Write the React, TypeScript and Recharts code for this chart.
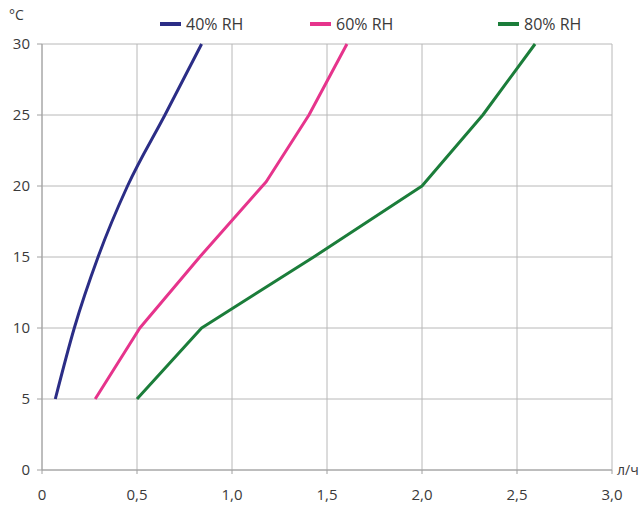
import React from "react";
import {
  LineChart,
  Line,
  XAxis,
  YAxis,
  CartesianGrid,
} from "recharts";

// temperatures (°C) for each curve
const temps40 = [5, 10, 15, 20, 25, 30];
const temps60 = [5, 10, 15, 20.3, 25, 30];
const temps80 = [5, 10, 15, 20, 25, 30];

// flow (л/ч) for each curve
const flow40 = [0.07, 0.17, 0.295, 0.45, 0.647, 0.84];
const flow60 = [0.28, 0.515, 0.83, 1.18, 1.405, 1.605];
const flow80 = [0.5, 0.84, 1.43, 2.0, 2.32, 2.595];

const seriesNames = ["40% RH", "60% RH", "80% RH"];
const seriesColors = ["#2b2d86", "#e6348c", "#1b7d3a"];
const seriesCurve = ["monotone", "linear", "linear"] as const;

const xTicks = [0, 0.5, 1, 1.5, 2, 2.5, 3];
const yTicks = [0, 5, 10, 15, 20, 25, 30];

const toPoints = (xs: number[], ys: number[]) =>
  xs.map((x, i) => ({ x, y: ys[i] }));

const series = [
  toPoints(flow40, temps40),
  toPoints(flow60, temps60),
  toPoints(flow80, temps80),
];

const legendLeft = [160, 310, 498];

const FONT = "'Open Sans', 'DejaVu Sans', sans-serif";
const TEXT = "#3a3a3a";

const fmtX = (v: number) => (v === 0 ? "0" : v.toFixed(1).replace(".", ","));

export default function App() {
  return (
    <div
      style={{
        position: "absolute",
        left: 0,
        top: 0,
        width: 640,
        height: 509,
        overflow: "hidden",
        background: "#fff",
        fontFamily: FONT,
      }}
    >
      <LineChart
        width={640}
        height={509}
        margin={{ top: 44, right: 28, left: 0, bottom: 0 }}
      >
        <CartesianGrid stroke="#b8b8b8" strokeWidth={1} />
        <XAxis
          type="number"
          dataKey="x"
          domain={[0, 3]}
          ticks={xTicks}
          tickFormatter={fmtX}
          height={39}
          tickSize={4}
          tickMargin={15}
          stroke="#a0a0a0"
          tick={{ fill: TEXT, fontSize: 15, fontFamily: FONT }}
          allowDataOverflow
        />
        <YAxis
          type="number"
          dataKey="y"
          domain={[0, 30]}
          ticks={yTicks}
          width={42}
          tickSize={5}
          tickMargin={7}
          stroke="#a0a0a0"
          tick={{ fill: TEXT, fontSize: 15, fontFamily: FONT }}
        />
        {series.map((data, i) => (
          <Line
            key={seriesNames[i]}
            data={data}
            dataKey="y"
            type={seriesCurve[i]}
            stroke={seriesColors[i]}
            strokeWidth={3}
            strokeLinejoin="round"
            dot={false}
            activeDot={false}
            isAnimationActive={false}
          />
        ))}
      </LineChart>

      <div
        style={{
          position: "absolute",
          left: 9,
          top: 5,
          fontSize: 14,
          color: TEXT,
        }}
      >
        °C
      </div>
      <div
        style={{
          position: "absolute",
          left: 617,
          top: 460,
          fontSize: 14,
          color: TEXT,
          whiteSpace: "nowrap",
        }}
      >
        л/ч
      </div>

      {seriesNames.map((name, i) => (
        <div
          key={name}
          style={{
            position: "absolute",
            left: legendLeft[i],
            top: 13,
            display: "flex",
            alignItems: "center",
            fontSize: 16,
            color: TEXT,
            whiteSpace: "nowrap",
          }}
        >
          <span
            style={{
              display: "inline-block",
              width: 21,
              height: 4,
              background: seriesColors[i],
              marginRight: 5,
            }}
          />
          {name}
        </div>
      ))}
    </div>
  );
}
